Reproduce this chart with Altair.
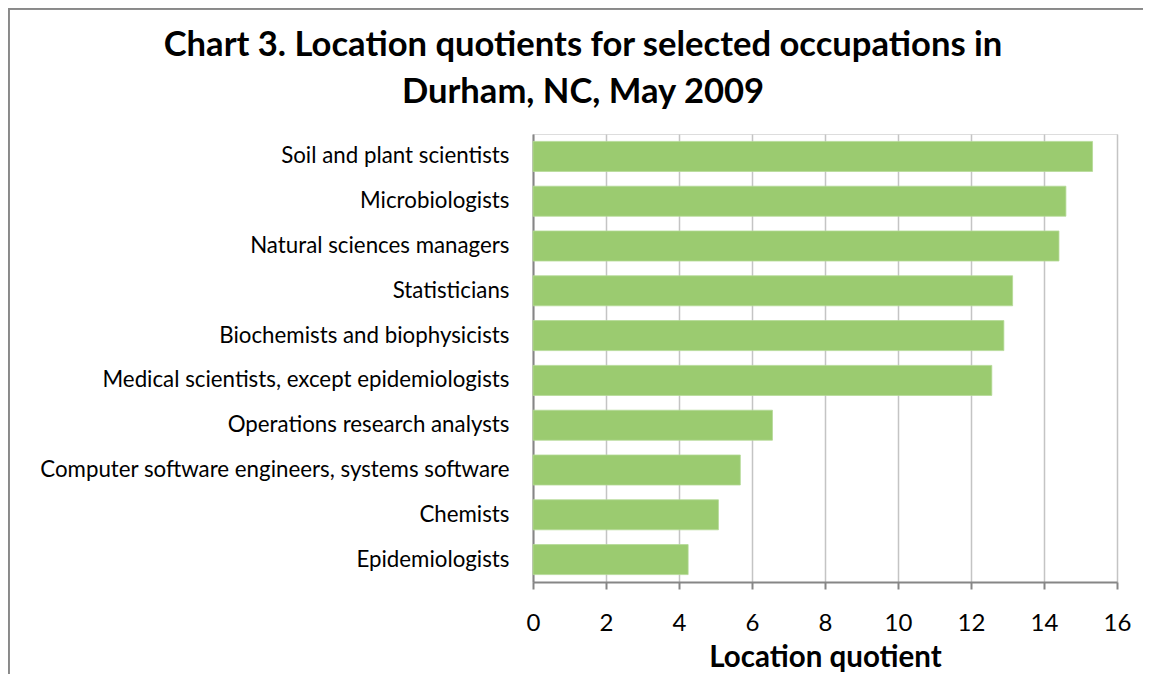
import altair as alt
import pandas as pd

occupations = [
    "Soil and plant scientists",
    "Microbiologists",
    "Natural sciences managers",
    "Statisticians",
    "Biochemists and biophysicists",
    "Medical scientists, except epidemiologists",
    "Operations research analysts",
    "Computer software engineers, systems software",
    "Chemists",
    "Epidemiologists",
]
quotients = [15.33, 14.6, 14.41, 13.14, 12.9, 12.57, 6.56, 5.68, 5.08, 4.25]
x_ticks = [0, 2, 4, 6, 8, 10, 12, 14, 16]

df = pd.DataFrame({"occupation": occupations, "lq": quotients})

FONT = "Lato"
W, H = 584, 448
PAD = {"left": 525, "top": 126, "right": 26, "bottom": 94}

bars = alt.Chart(df).mark_bar(color="#9BCB70", stroke="#B4D996", strokeWidth=0.8).encode(
    x=alt.X(
        "lq:Q",
        scale=alt.Scale(domain=[0, 16], nice=False),
        axis=alt.Axis(
            values=x_ticks,
            title="Location quotient",
            titleFont=FONT,
            titleFontSize=29.5,
            titleFontWeight="bold",
            titleColor="#000000",
            titlePadding=8,
            labelFont=FONT,
            labelFontSize=24,
            labelColor="#000000",
            labelPadding=22,
            labelFlush=False,
            labelOverlap=False,
            tickSize=7,
            tickColor="#868686",
            tickWidth=2,
            domainColor="#868686",
            domainWidth=2,
            grid=True,
            gridColor="#C4C4C4",
            gridWidth=1.5,
        ),
    ),
    y=alt.Y(
        "occupation:N",
        sort=occupations,
        scale=alt.Scale(paddingInner=0.33, paddingOuter=0.165),
        axis=alt.Axis(
            title=None,
            labelFont=FONT,
            labelFontSize=22.3,
            labelColor="#000000",
            labelPadding=24,
            labelLimit=600,
            ticks=False,
            grid=False,
            domainColor="#868686",
            domainWidth=2,
        ),
    ),
)

frame_top = alt.Chart(df).mark_rule(color="#898989", strokeWidth=1.5).encode(
    x=alt.value(-PAD["left"] + 0.5),
    x2=alt.value(W + PAD["right"]),
    y=alt.value(-PAD["top"] + 0.5),
)
frame_left = alt.Chart(df).mark_rule(color="#898989", strokeWidth=1.5).encode(
    x=alt.value(-PAD["left"] + 0.5),
    y=alt.value(-PAD["top"] + 0.5),
    y2=alt.value(H + PAD["bottom"]),
)

chart = (
    alt.layer(bars, frame_top, frame_left)
    .properties(
        width=W,
        height=H,
        autosize=alt.AutoSizeParams(type="none"),
        padding=PAD,
        title=alt.TitleParams(
            text=["Chart 3. Location quotients for selected occupations in", "Durham, NC, May 2009"],
            font=FONT,
            fontSize=34.6,
            fontWeight="bold",
            color="#000000",
            lineHeight=47,
            anchor="middle",
            frame="group",
            dx=-242,
            offset=-103,
        ),
    )
    .configure_view(stroke=None)
    .configure(background="white")
)

chart.save("out.html", embed_options={"renderer": "svg", "actions": False})
